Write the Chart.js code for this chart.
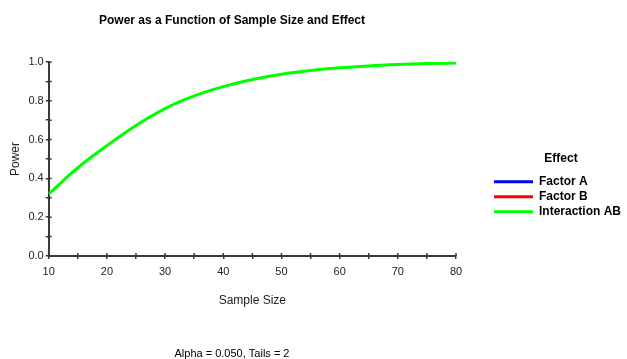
<!DOCTYPE html>
<html>
<head>
<meta charset="utf-8">
<script src="https://cdn.jsdelivr.net/npm/chart.js@4"></script>
<style>
  html, body { margin: 0; padding: 0; background: #fff; }
  #wrap { width: 627px; height: 359px; }
</style>
</head>
<body>
<div id="wrap"><canvas id="powerChart"></canvas></div>
<script>
        // Data
        const sampleSizes = [10, 15, 20, 25, 30, 35, 40, 45, 50, 55, 60, 65, 70, 75, 80];
        const powerFactorA = [0.32, 0.455, 0.569, 0.673, 0.76, 0.825, 0.873, 0.91, 0.937, 0.956, 0.97, 0.98, 0.987, 0.992, 0.995];
        const powerFactorB = [0.32, 0.455, 0.569, 0.673, 0.76, 0.825, 0.873, 0.91, 0.937, 0.956, 0.97, 0.98, 0.987, 0.992, 0.995];
        const powerInteractionAB = [0.32, 0.455, 0.569, 0.673, 0.76, 0.825, 0.873, 0.91, 0.937, 0.956, 0.97, 0.98, 0.987, 0.992, 0.995];
        const seriesLabels = ['Factor A', 'Factor B', 'Interaction AB'];
        const seriesColors = ['#0000ff', '#ff0000', '#00ff00'];
        const seriesWidths = [1.2, 1.2, 3];

        const FONT = 'Arial, "Liberation Sans", sans-serif';
        const AXIS_COLOR = '#3a3a3a';
        const TEXT_COLOR = '#222';

        function toPoints(values) {
            return sampleSizes.map((n, i) => ({ x: n, y: values[i] }));
        }

        // the three curves overlap; Interaction AB (green) is drawn on top
        const datasets = [powerFactorA, powerFactorB, powerInteractionAB].map((vals, i) => ({
            label: seriesLabels[i],
            data: toPoints(vals),
            borderColor: seriesColors[i],
            backgroundColor: seriesColors[i],
            borderWidth: seriesWidths[i],
            pointRadius: 0,
            cubicInterpolationMode: 'monotone',
            order: 2 - i,
        }));

        // Center title + footer over the plot side, and nudge the legend, like the original
        const placeBlocks = {
            id: 'placeBlocks',
            afterLayout(chart) {
                const area = chart.chartArea;
                chart.boxes.forEach(box => {
                    if (box.options && typeof box.options.text === 'string') {
                        box.left = 0;
                        box.right = area.right + 8;
                        box.width = box.right - box.left;
                    }
                });
                const lg = chart.legend;
                if (lg) {
                    lg.left = area.right + 35;
                    lg.right = lg.left + lg.width;
                    lg.top += 7;
                    lg.bottom += 7;
                }
            }
        };

        // Tick marks crossing into the plot a little
        const innerTicks = {
            id: 'innerTicks',
            afterDraw(chart) {
                const { ctx, chartArea, scales } = chart;
                ctx.save();
                ctx.strokeStyle = AXIS_COLOR;
                ctx.lineWidth = 1.5;
                ctx.beginPath();
                scales.x.ticks.forEach(t => {
                    const px = scales.x.getPixelForValue(t.value);
                    ctx.moveTo(px, chartArea.bottom);
                    ctx.lineTo(px, chartArea.bottom - 3);
                });
                scales.y.ticks.forEach(t => {
                    const py = scales.y.getPixelForValue(t.value);
                    ctx.moveTo(chartArea.left, py);
                    ctx.lineTo(chartArea.left + 3, py);
                });
                ctx.stroke();
                ctx.restore();
            }
        };

        const ctx = document.getElementById('powerChart').getContext('2d');
        const chart = new Chart(ctx, {
            type: 'line',
            data: { datasets: datasets },
            plugins: [placeBlocks, innerTicks],
            options: {
                responsive: true,
                maintainAspectRatio: false,
                animation: false,
                layout: { padding: { left: 4, right: 0, top: 0, bottom: 0 } },
                scales: {
                    x: {
                        type: 'linear',
                        min: 10,
                        max: 80,
                        afterFit: (s) => { s.paddingRight = 171; },
                        ticks: {
                            stepSize: 5,
                            padding: 6,
                            color: TEXT_COLOR,
                            font: { family: FONT, size: 11 },
                            maxRotation: 0,
                            autoSkip: false,
                            callback: (v) => (v % 10 === 0 ? v : ''),
                        },
                        grid: { drawOnChartArea: false, tickLength: 3, color: AXIS_COLOR, lineWidth: 1.5 },
                        border: { color: AXIS_COLOR, width: 2 },
                        title: {
                            display: true,
                            text: 'Sample Size',
                            color: TEXT_COLOR,
                            font: { family: FONT, size: 12 },
                            padding: { top: 9, bottom: 4 },
                        },
                    },
                    y: {
                        min: 0,
                        max: 1,
                        ticks: {
                            stepSize: 0.1,
                            padding: 2,
                            color: TEXT_COLOR,
                            font: { family: FONT, size: 11 },
                            autoSkip: false,
                            callback: (v) => (Math.round(v * 10) % 2 === 0 ? v.toFixed(1) : ''),
                        },
                        grid: { drawOnChartArea: false, tickLength: 3, color: AXIS_COLOR, lineWidth: 1.5 },
                        border: { color: AXIS_COLOR, width: 2 },
                        title: {
                            display: true,
                            text: 'Power',
                            color: TEXT_COLOR,
                            font: { family: FONT, size: 12 },
                            padding: { top: 4, bottom: 4 },
                        },
                    },
                },
                plugins: {
                    title: {
                        display: true,
                        text: 'Power as a Function of Sample Size and Effect',
                        color: '#000',
                        font: { family: FONT, size: 12, weight: 'bold' },
                        padding: { top: 13, bottom: 34.6 },
                    },
                    subtitle: {
                        display: true,
                        position: 'bottom',
                        text: 'Alpha = 0.050, Tails = 2',
                        color: '#000',
                        font: { family: FONT, size: 11, lineHeight: 0.9 },
                        padding: { top: 37.5, bottom: 0 },
                    },
                    legend: {
                        position: 'right',
                        title: {
                            display: true,
                            text: 'Effect',
                            color: '#000',
                            font: { family: FONT, size: 12, weight: 'bold' },
                            padding: { top: 0, bottom: 6 },
                        },
                        labels: {
                            boxWidth: 39,
                            boxHeight: 3,
                            padding: 3,
                            color: '#000',
                            font: { family: FONT, size: 12, weight: 'bold' },
                            sort: (a, b) => a.datasetIndex - b.datasetIndex,
                            generateLabels: (c) => Chart.defaults.plugins.legend.labels.generateLabels(c)
                                .map(l => ({ ...l, lineWidth: 0 })),
                        },
                    },
                    tooltip: { enabled: false },
                },
            },
        });
</script>
</body>
</html>
